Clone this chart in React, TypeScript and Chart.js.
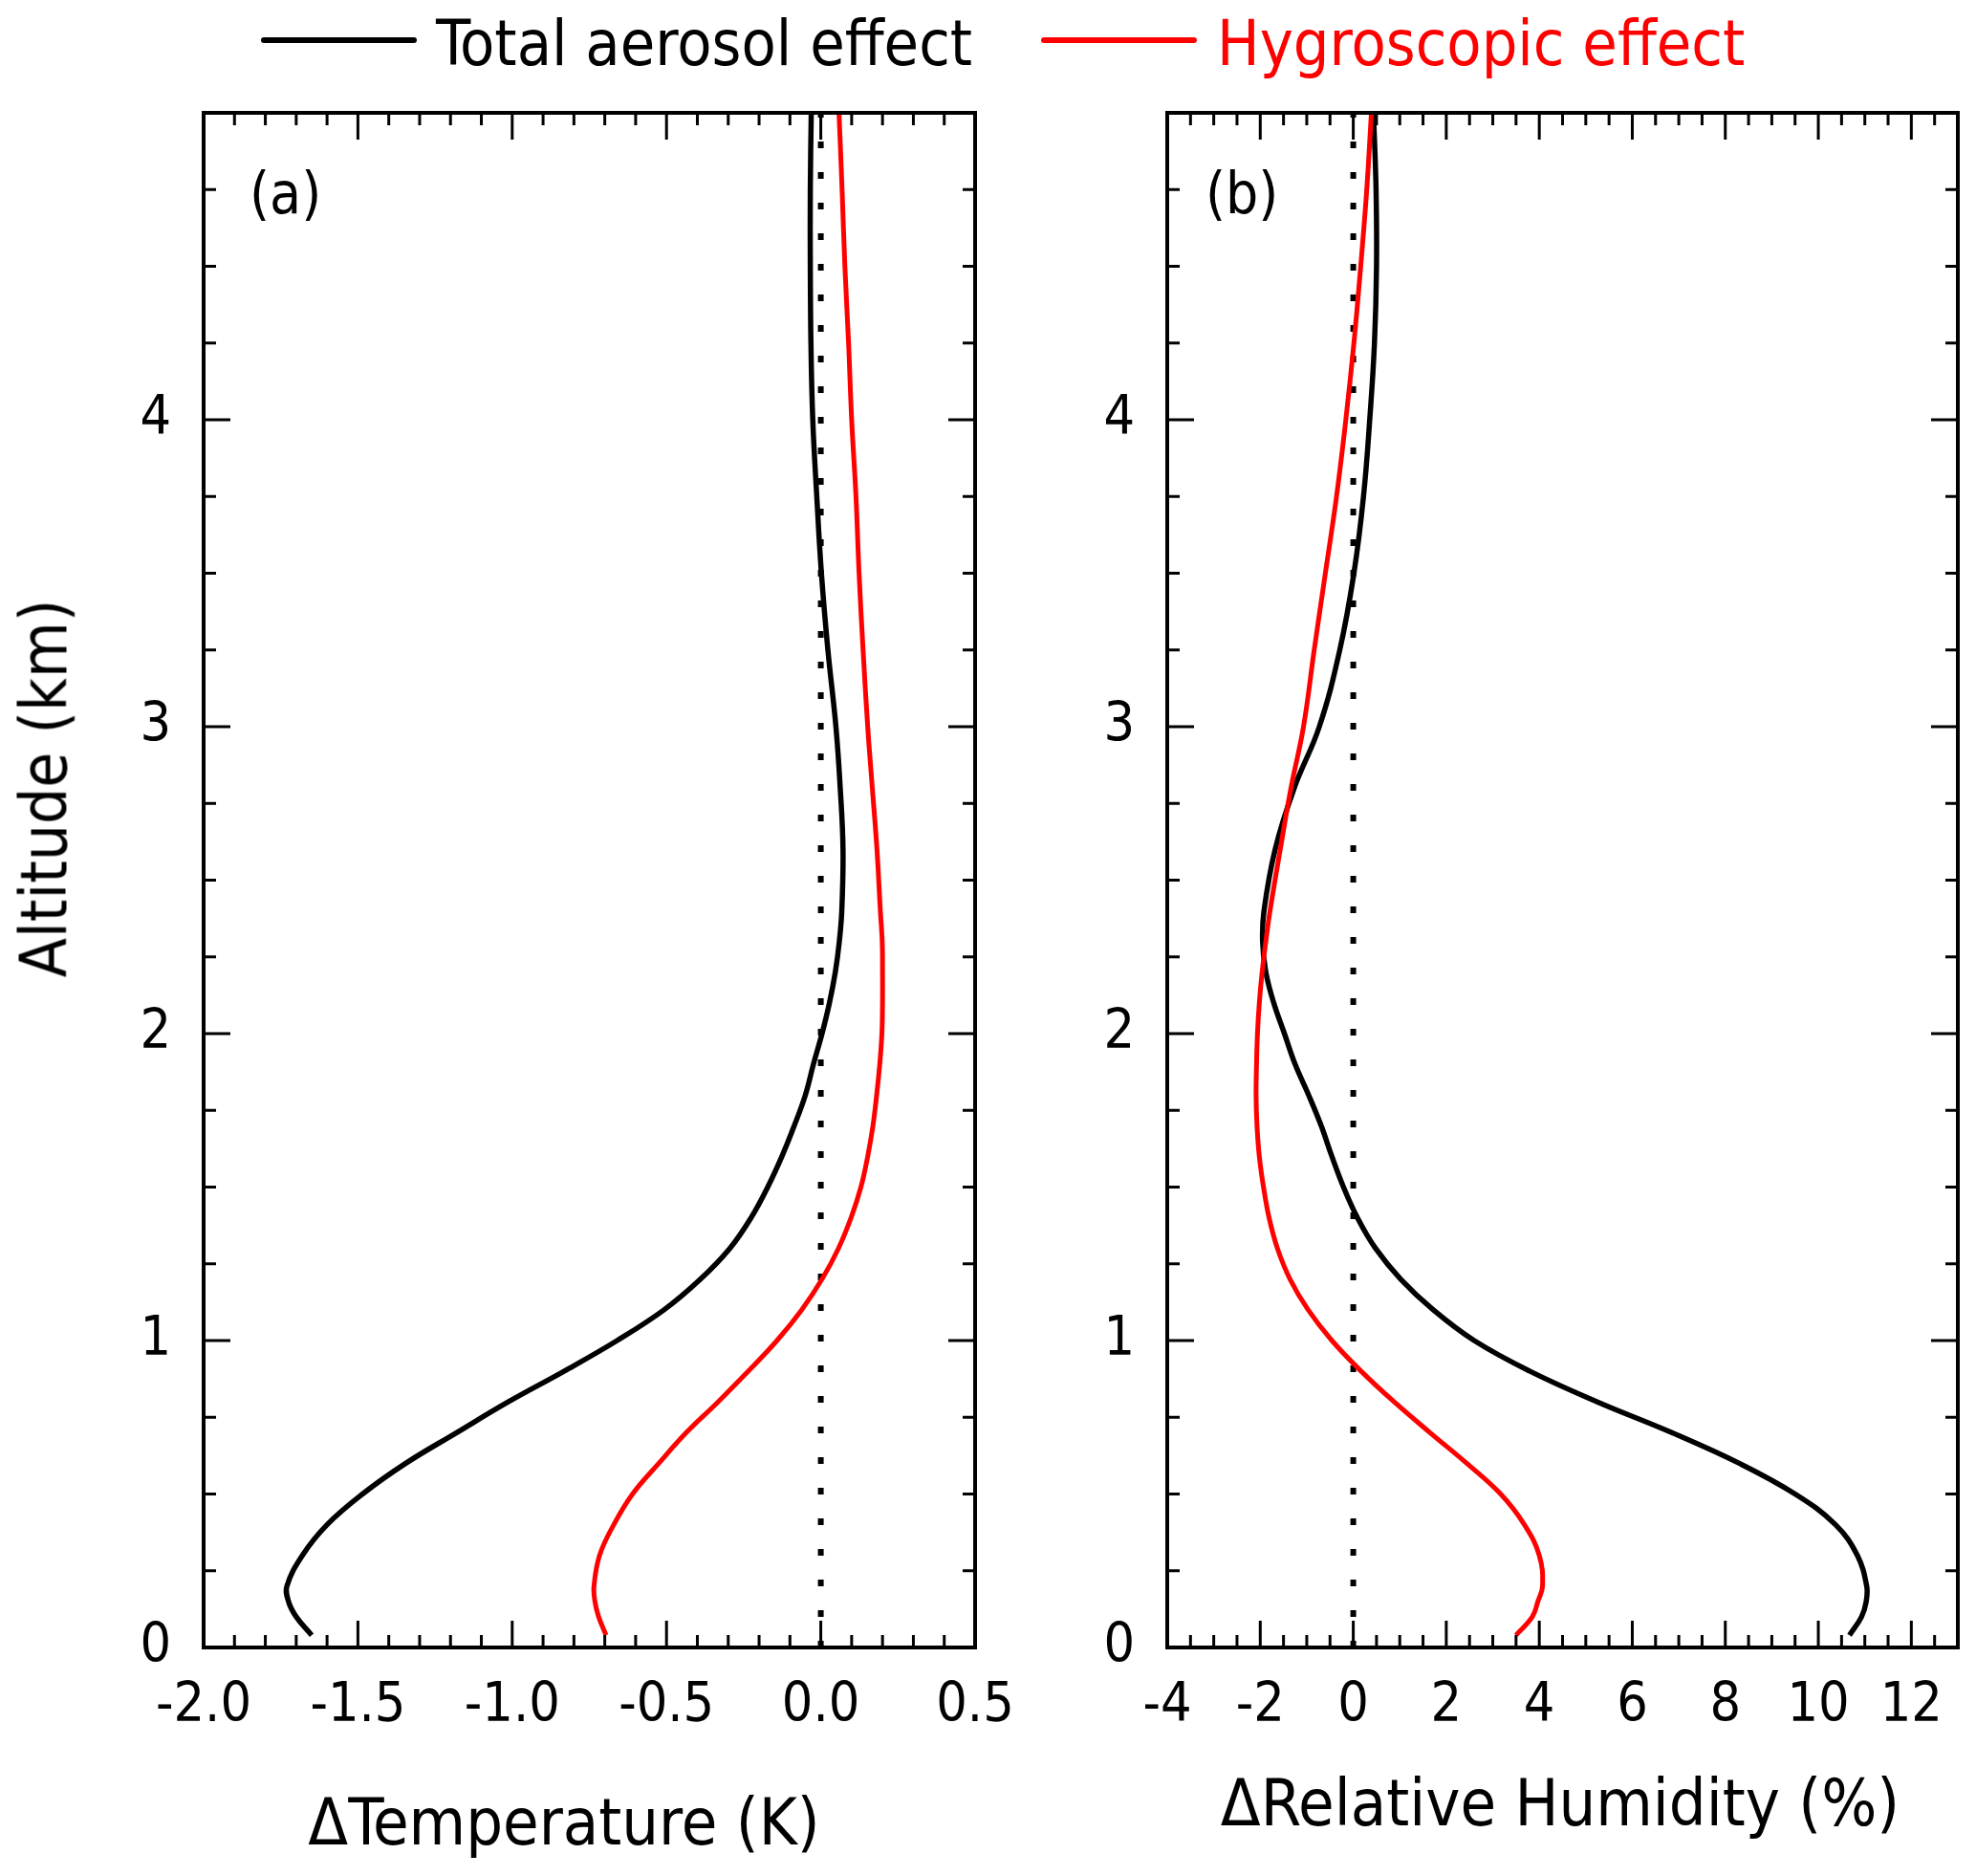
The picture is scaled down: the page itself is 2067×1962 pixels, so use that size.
import React, { useEffect, useRef } from 'react';
import { Chart, registerables } from 'chart.js';

Chart.register(...registerables);

// altitude grid (km) shared by all four profiles
const altitude = [
  0.04, 0.1, 0.15, 0.2, 0.3, 0.4, 0.5, 0.6, 0.7, 0.8, 0.9, 1.0, 1.1, 1.2, 1.3, 1.4, 1.5, 1.6, 1.7,
  1.8, 1.9, 2.0, 2.1, 2.2, 2.3, 2.4, 2.6, 2.8, 3.0, 3.25, 3.5, 3.75, 4.0, 4.25, 4.5, 4.75, 5.0,
];

// (a) ΔTemperature (K)
const tempTotal = [
  -1.65, -1.7, -1.725, -1.73, -1.68, -1.6, -1.485, -1.345, -1.18, -1.013, -0.832, -0.66, -0.508,
  -0.39, -0.295, -0.226, -0.172, -0.126, -0.086, -0.05, -0.024, 0.004, 0.028, 0.047, 0.06, 0.068,
  0.072, 0.063, 0.049, 0.023, 0.002, -0.013, -0.026, -0.032, -0.034, -0.034, -0.031,
];
const tempHygro = [
  -0.696, -0.72, -0.732, -0.735, -0.717, -0.671, -0.61, -0.525, -0.436, -0.333, -0.235, -0.142,
  -0.062, 0.004, 0.057, 0.098, 0.13, 0.152, 0.169, 0.181, 0.191, 0.198, 0.2, 0.2, 0.199, 0.193,
  0.182, 0.167, 0.152, 0.137, 0.124, 0.114, 0.1, 0.09, 0.078, 0.069, 0.059,
];

// (b) ΔRelative Humidity (%)
const rhTotal = [
  10.67, 10.93, 11.03, 11.04, 10.84, 10.37, 9.5, 8.3, 6.85, 5.25, 3.8, 2.6, 1.72, 1.02, 0.48,
  0.09, -0.21, -0.46, -0.69, -0.96, -1.25, -1.48, -1.71, -1.88, -1.95, -1.92, -1.68, -1.27, -0.73,
  -0.29, 0.014, 0.22, 0.354, 0.456, 0.5, 0.49, 0.435,
];
const rhHygro = [
  3.5, 3.85, 3.97, 4.07, 4.0, 3.68, 3.17, 2.44, 1.65, 0.88, 0.17, -0.46, -0.97, -1.36, -1.63, -1.81,
  -1.93, -2.02, -2.07, -2.09, -2.08, -2.06, -2.02, -1.96, -1.88, -1.79, -1.57, -1.34, -1.07, -0.84,
  -0.6, -0.36, -0.16, 0.014, 0.16, 0.29, 0.39,
];

const zeroLineX = [0, 0];
const zeroLineAlt = [0, 5];

const altitudeTicks = [0, 1, 2, 3, 4];
const tempTicks = [-2.0, -1.5, -1.0, -0.5, 0.0, 0.5];
const rhTicks = [-4, -2, 0, 2, 4, 6, 8, 10, 12];

const FONT = '"DejaVu Sans Condensed", "DejaVu Sans", sans-serif';
const H = 1962;

// inward tick marks on all four sides plus the box frame
const frameTicks = {
  id: 'frameTicks',
  afterDatasetsDraw(chart: any, _args: any, opts: any) {
    const { ctx, chartArea } = chart;
    const { left, right, top, bottom } = chartArea;
    const xs = chart.scales.x;
    const ys = chart.scales.y;
    ctx.save();
    ctx.strokeStyle = '#000';
    ctx.lineWidth = 3;
    ctx.beginPath();
    const nx = Math.round((xs.max - xs.min) / opts.xMinor);
    for (let i = 0; i <= nx; i++) {
      const v = xs.min + i * opts.xMinor;
      const r = v / opts.xMajor;
      const len = Math.abs(r - Math.round(r)) < 1e-6 ? 28 : 13;
      const px = xs.getPixelForValue(v);
      ctx.moveTo(px, bottom);
      ctx.lineTo(px, bottom - len);
      ctx.moveTo(px, top);
      ctx.lineTo(px, top + len);
    }
    const ny = Math.round((ys.max - ys.min) / opts.yMinor);
    for (let i = 0; i <= ny; i++) {
      const v = ys.min + i * opts.yMinor;
      const r = v / opts.yMajor;
      const len = Math.abs(r - Math.round(r)) < 1e-6 ? 28 : 13;
      const py = ys.getPixelForValue(v);
      ctx.moveTo(left, py);
      ctx.lineTo(left + len, py);
      ctx.moveTo(right, py);
      ctx.lineTo(right - len, py);
    }
    ctx.stroke();
    ctx.lineWidth = 4;
    ctx.strokeRect(left, top, right - left, bottom - top);
    ctx.restore();
  },
};

interface PanelProps {
  left: number;
  width: number;
  yWidth: number;
  padRight: number;
  xMin: number;
  xMax: number;
  xTicks: number[];
  xFmt: (v: number) => string;
  xMinor: number;
  xMajor: number;
  total: number[];
  hygro: number[];
}

const Panel: React.FC<PanelProps> = ({
  left, width, yWidth, padRight, xMin, xMax, xTicks, xFmt, xMinor, xMajor, total, hygro,
}) => {
  const ref = useRef<HTMLCanvasElement>(null);

  useEffect(() => {
    if (!ref.current) return;
    const toPoints = (vals: number[]) => altitude.map((y, i) => ({ x: vals[i], y }));
    const tickFont = { family: FONT, size: 57 };

    const chart = new Chart(ref.current, {
      type: 'line',
      data: {
        datasets: [
          {
            label: 'Hygroscopic effect',
            data: toPoints(hygro),
            borderColor: '#ff0000',
            borderWidth: 5,
            pointRadius: 0,
            tension: 0.4,
            fill: false,
            order: 0,
          },
          {
            label: 'Total aerosol effect',
            data: toPoints(total),
            borderColor: '#000000',
            borderWidth: 5.5,
            pointRadius: 0,
            tension: 0.4,
            fill: false,
            order: 1,
          },
          {
            label: 'zero',
            data: zeroLineX.map((x, i) => ({ x, y: zeroLineAlt[i] })),
            borderColor: '#000000',
            borderWidth: 6,
            borderDash: [7, 25],
            borderCapStyle: 'butt',
            pointRadius: 0,
            fill: false,
            order: 2,
          },
        ],
      },
      options: {
        animation: false,
        responsive: false,
        devicePixelRatio: 1,
        indexAxis: 'y',
        layout: { padding: { top: 118, right: padRight, left: 0, bottom: 0 } },
        plugins: {
          legend: { display: false },
          tooltip: { enabled: false },
          frameTicks: { xMinor, xMajor, yMinor: 0.25, yMajor: 1 },
        } as any,
        scales: {
          x: {
            type: 'linear',
            position: 'bottom',
            min: xMin,
            max: xMax,
            grid: { display: false, drawTicks: false },
            border: { display: false },
            afterBuildTicks: (s: any) => {
              s.ticks = xTicks.map((value) => ({ value }));
            },
            afterFit: (s: any) => {
              s.height = H - 1723;
              s.paddingLeft = 0;
              s.paddingRight = 0;
            },
            ticks: {
              autoSkip: false,
              maxRotation: 0,
              padding: 28,
              color: '#000',
              font: tickFont,
              callback: (v: any) => xFmt(Number(v)),
            },
          },
          y: {
            type: 'linear',
            position: 'left',
            min: 0,
            max: 5,
            grid: { display: false, drawTicks: false },
            border: { display: false },
            afterBuildTicks: (s: any) => {
              s.ticks = altitudeTicks.map((value) => ({ value }));
            },
            afterFit: (s: any) => {
              s.width = yWidth;
              s.paddingTop = 0;
              s.paddingBottom = 0;
            },
            ticks: {
              autoSkip: false,
              padding: 34,
              color: '#000',
              font: tickFont,
              callback: (v: any) => String(v),
            },
          },
        },
      },
      plugins: [frameTicks],
    } as any);

    return () => chart.destroy();
  }, []);

  return (
    <canvas
      ref={ref}
      width={width}
      height={H}
      style={{ position: 'absolute', left, top: 0, width, height: H }}
    />
  );
};

const txt = (size: number, color = '#000'): React.CSSProperties => ({
  position: 'absolute',
  fontFamily: FONT,
  fontSize: size,
  lineHeight: `${size}px`,
  height: size,
  color,
  whiteSpace: 'nowrap',
});

export default function App() {
  useEffect(() => {
    document.body.style.margin = '0';
  }, []);

  return (
    <div style={{ position: 'relative', width: 2067, height: H, background: '#fff', overflow: 'hidden' }}>
      <Panel
        left={0}
        width={1060}
        yWidth={213}
        padRight={40}
        xMin={-2}
        xMax={0.5}
        xTicks={tempTicks}
        xFmt={(v) => v.toFixed(1)}
        xMinor={0.1}
        xMajor={0.5}
        total={tempTotal}
        hygro={tempHygro}
      />
      <Panel
        left={1060}
        width={1007}
        yWidth={161}
        padRight={19}
        xMin={-4}
        xMax={13}
        xTicks={rhTicks}
        xFmt={(v) => String(v)}
        xMinor={0.5}
        xMajor={2}
        total={rhTotal}
        hygro={rhHygro}
      />

      {/* legend */}
      <div style={{ position: 'absolute', left: 273, top: 39, width: 163, height: 6, background: '#000', borderRadius: 3 }} />
      <div style={{ ...txt(66), left: 456, top: 13 }}>Total aerosol effect</div>
      <div style={{ position: 'absolute', left: 1089, top: 39, width: 163, height: 6, background: '#ff0000', borderRadius: 3 }} />
      <div style={{ ...txt(66, '#ff0000'), left: 1273, top: 13 }}>Hygroscopic effect</div>

      {/* panel labels */}
      <div style={{ ...txt(60), left: 261, top: 172 }}>(a)</div>
      <div style={{ ...txt(60), left: 1261, top: 172 }}>(b)</div>

      {/* axis titles */}
      <div style={{ ...txt(68), left: 590 - 500, width: 1000, textAlign: 'center', top: 1872 }}>
        ΔTemperature (K)
      </div>
      <div style={{ ...txt(68), left: 1632 - 500, width: 1000, textAlign: 'center', top: 1852 }}>
        ΔRelative Humidity (%)
      </div>
      <div
        style={{
          ...txt(67),
          left: 47 - 300,
          top: 824 - 33.5,
          width: 600,
          textAlign: 'center',
          transform: 'rotate(-90deg)',
        }}
      >
        Altitude (km)
      </div>
    </div>
  );
}
